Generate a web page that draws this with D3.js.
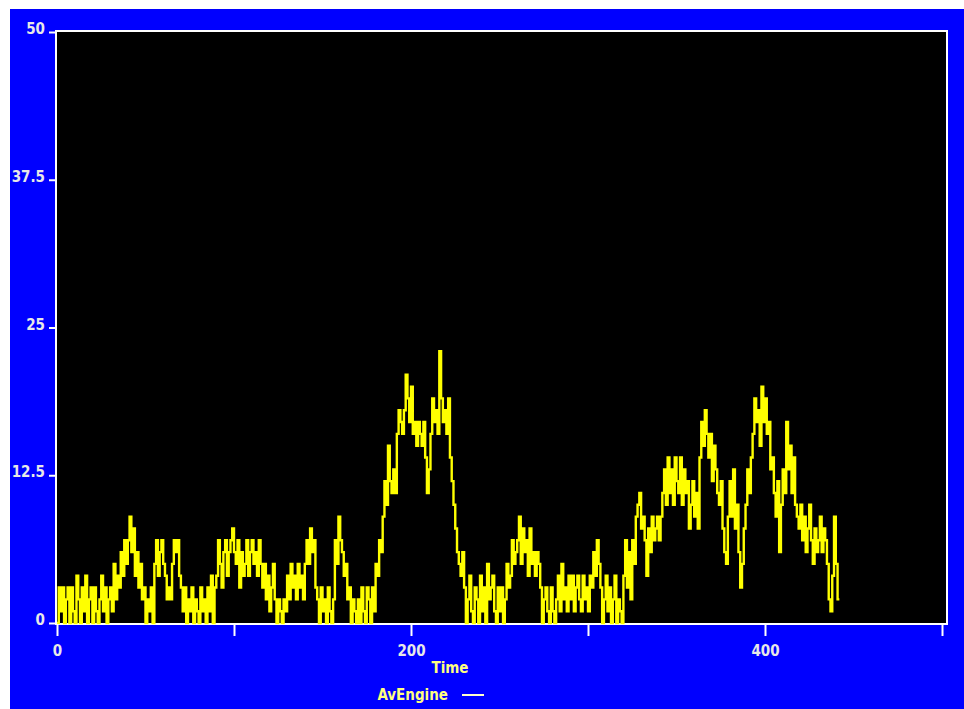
<!DOCTYPE html>
<html lang="en">
<head>
  <meta charset="UTF-8">
  <title>AvEngine over Time</title>
  <script src="https://d3js.org/d3.v7.min.js"></script>
  <style>
    body { margin: 0; background: #fff; }
    .axis text { font-family: "DejaVu Sans Condensed", "DejaVu Sans", sans-serif; font-weight: bold; font-size: 15px; fill: #e8e8e8; }
    .axis line { stroke: #fff; stroke-width: 2; }
    .axis path { display: none; }
  </style>
</head>
<body>
<div id="chart"></div>
<script>
  // AvEngine value for each time step
  const avEngine = [
    0, 3, 1, 3, 0, 2, 3, 0, 3, 1,
    0, 4, 2, 0, 3, 1, 4, 0, 2, 3,
    0, 3, 1, 0, 2, 4, 1, 3, 0, 2,
    3, 1, 5, 2, 4, 3, 6, 4, 7, 5,
    7, 9, 6, 8, 4, 6, 3, 5, 2, 3,
    0, 2, 1, 3, 0, 5, 7, 4, 6, 7,
    5, 4, 2, 3, 2, 5, 7, 6, 7, 4,
    3, 1, 3, 0, 2, 1, 3, 0, 2, 1,
    0, 3, 1, 2, 0, 3, 1, 4, 0, 3,
    4, 7, 5, 3, 6, 7, 4, 6, 7, 8,
    6, 5, 7, 3, 6, 4, 5, 7, 4, 6,
    7, 5, 6, 4, 7, 5, 3, 5, 2, 4,
    1, 3, 5, 2, 0, 2, 1, 0, 2, 1,
    4, 2, 5, 3, 4, 2, 5, 3, 4, 2,
    5, 7, 5, 8, 6, 7, 3, 2, 0, 3,
    1, 2, 0, 3, 1, 0, 2, 7, 5, 9,
    7, 6, 4, 5, 2, 3, 0, 2, 1, 0,
    2, 0, 3, 1, 0, 3, 2, 0, 3, 1,
    5, 4, 7, 6, 9, 12, 10, 15, 12, 11,
    13, 11, 16, 18, 17, 16, 18, 21, 19, 17,
    20, 16, 17, 15, 17, 16, 15, 17, 14, 11,
    13, 16, 19, 17, 18, 16, 23, 19, 17, 18,
    16, 19, 14, 12, 10, 8, 6, 5, 4, 6,
    3, 0, 2, 4, 1, 0, 3, 2, 0, 4,
    1, 3, 0, 5, 2, 3, 4, 1, 0, 3,
    1, 3, 0, 2, 5, 3, 4, 7, 5, 6,
    7, 9, 5, 8, 6, 7, 4, 8, 5, 6,
    4, 6, 5, 3, 0, 2, 3, 1, 0, 3,
    1, 0, 2, 4, 1, 5, 2, 3, 1, 4,
    2, 4, 1, 3, 4, 2, 1, 4, 2, 3,
    1, 4, 3, 6, 4, 7, 5, 3, 0, 2,
    4, 1, 3, 0, 2, 4, 0, 2, 1, 0,
    4, 7, 3, 6, 2, 7, 5, 9, 10, 11,
    8, 9, 7, 4, 8, 6, 9, 7, 8, 9,
    7, 9, 11, 13, 10, 14, 11, 13, 10, 14,
    12, 11, 14, 10, 13, 11, 12, 8, 10, 12,
    9, 11, 8, 14, 17, 15, 18, 16, 14, 16,
    12, 15, 13, 11, 10, 12, 8, 6, 5, 9,
    12, 9, 13, 8, 10, 6, 3, 5, 8, 10,
    13, 11, 14, 16, 19, 17, 18, 15, 20, 17,
    19, 16, 17, 13, 14, 11, 9, 12, 6, 10,
    13, 11, 17, 13, 15, 11, 14, 10, 9, 8,
    10, 7, 9, 6, 8, 10, 7, 5, 8, 6,
    7, 9, 6, 8, 7, 5, 2, 1, 4, 9,
    5, 2, 2
  ];
  const xTicks = [0, 100, 200, 300, 400, 500];
  const yTicks = [0, 12.5, 25, 37.5, 50];

  const data = avEngine.map((v, i) => ({ time: i, value: v }));

  const W = 964, H = 709;
  const plot = { left: 56, top: 31, right: 947, bottom: 624 };

  const svg = d3.select('#chart').append('svg')
    .attr('width', W)
    .attr('height', H);

  // blue backdrop
  svg.append('rect')
    .attr('x', 10).attr('y', 9)
    .attr('width', W - 10).attr('height', H - 9)
    .attr('fill', '#0000ff');

  const x = d3.scaleLinear().domain([0, 500]).range([57, 942]);
  const y = d3.scaleLinear().domain([0, 50]).range([623, 32]);

  // black plot area with white frame
  svg.append('rect')
    .attr('x', plot.left).attr('y', plot.top)
    .attr('width', plot.right - plot.left)
    .attr('height', plot.bottom - plot.top)
    .attr('fill', '#000')
    .attr('stroke', '#fff')
    .attr('stroke-width', 2);

  const line = d3.line()
    .curve(d3.curveStepAfter)
    .x(d => x(d.time))
    .y(d => y(d.value));

  svg.append('path')
    .datum(data)
    .attr('fill', 'none')
    .attr('stroke', '#ffff00')
    .attr('stroke-width', 2.4)
    .attr('d', line);

  // x axis: ticks every 100, labels every 200
  const xAxis = svg.append('g')
    .attr('class', 'axis')
    .attr('transform', `translate(0,${plot.bottom})`)
    .call(d3.axisBottom(x)
      .tickValues(xTicks)
      .tickSize(12)
      .tickSizeOuter(0)
      .tickPadding(6)
      .tickFormat(d => d % 200 === 0 ? d : ''));
  xAxis.selectAll('text').attr('dy', '0.95em');

  // y axis
  const yAxis = svg.append('g')
    .attr('class', 'axis')
    .attr('transform', `translate(${plot.left},0)`)
    .call(d3.axisLeft(y)
      .tickValues(yTicks)
      .tickSize(7)
      .tickSizeOuter(0)
      .tickPadding(4)
      .tickFormat(d => d));
  yAxis.selectAll('text').attr('dy', '0.1em');

  svg.append('text')
    .attr('x', 450).attr('y', 673)
    .attr('text-anchor', 'middle')
    .style('font-family', '"DejaVu Sans Condensed", "DejaVu Sans", sans-serif')
    .style('font-weight', 'bold')
    .style('font-size', '15px')
    .attr('fill', '#ffff80')
    .text('Time');

  // legend
  svg.append('text')
    .attr('x', 448).attr('y', 700)
    .attr('text-anchor', 'end')
    .style('font-family', '"DejaVu Sans Condensed", "DejaVu Sans", sans-serif')
    .style('font-weight', 'bold')
    .style('font-size', '15px')
    .attr('fill', '#ffff80')
    .text('AvEngine');
  svg.append('line')
    .attr('x1', 462).attr('x2', 484)
    .attr('y1', 695).attr('y2', 695)
    .attr('stroke', '#ffffcc')
    .attr('stroke-width', 2);
</script>
</body>
</html>
